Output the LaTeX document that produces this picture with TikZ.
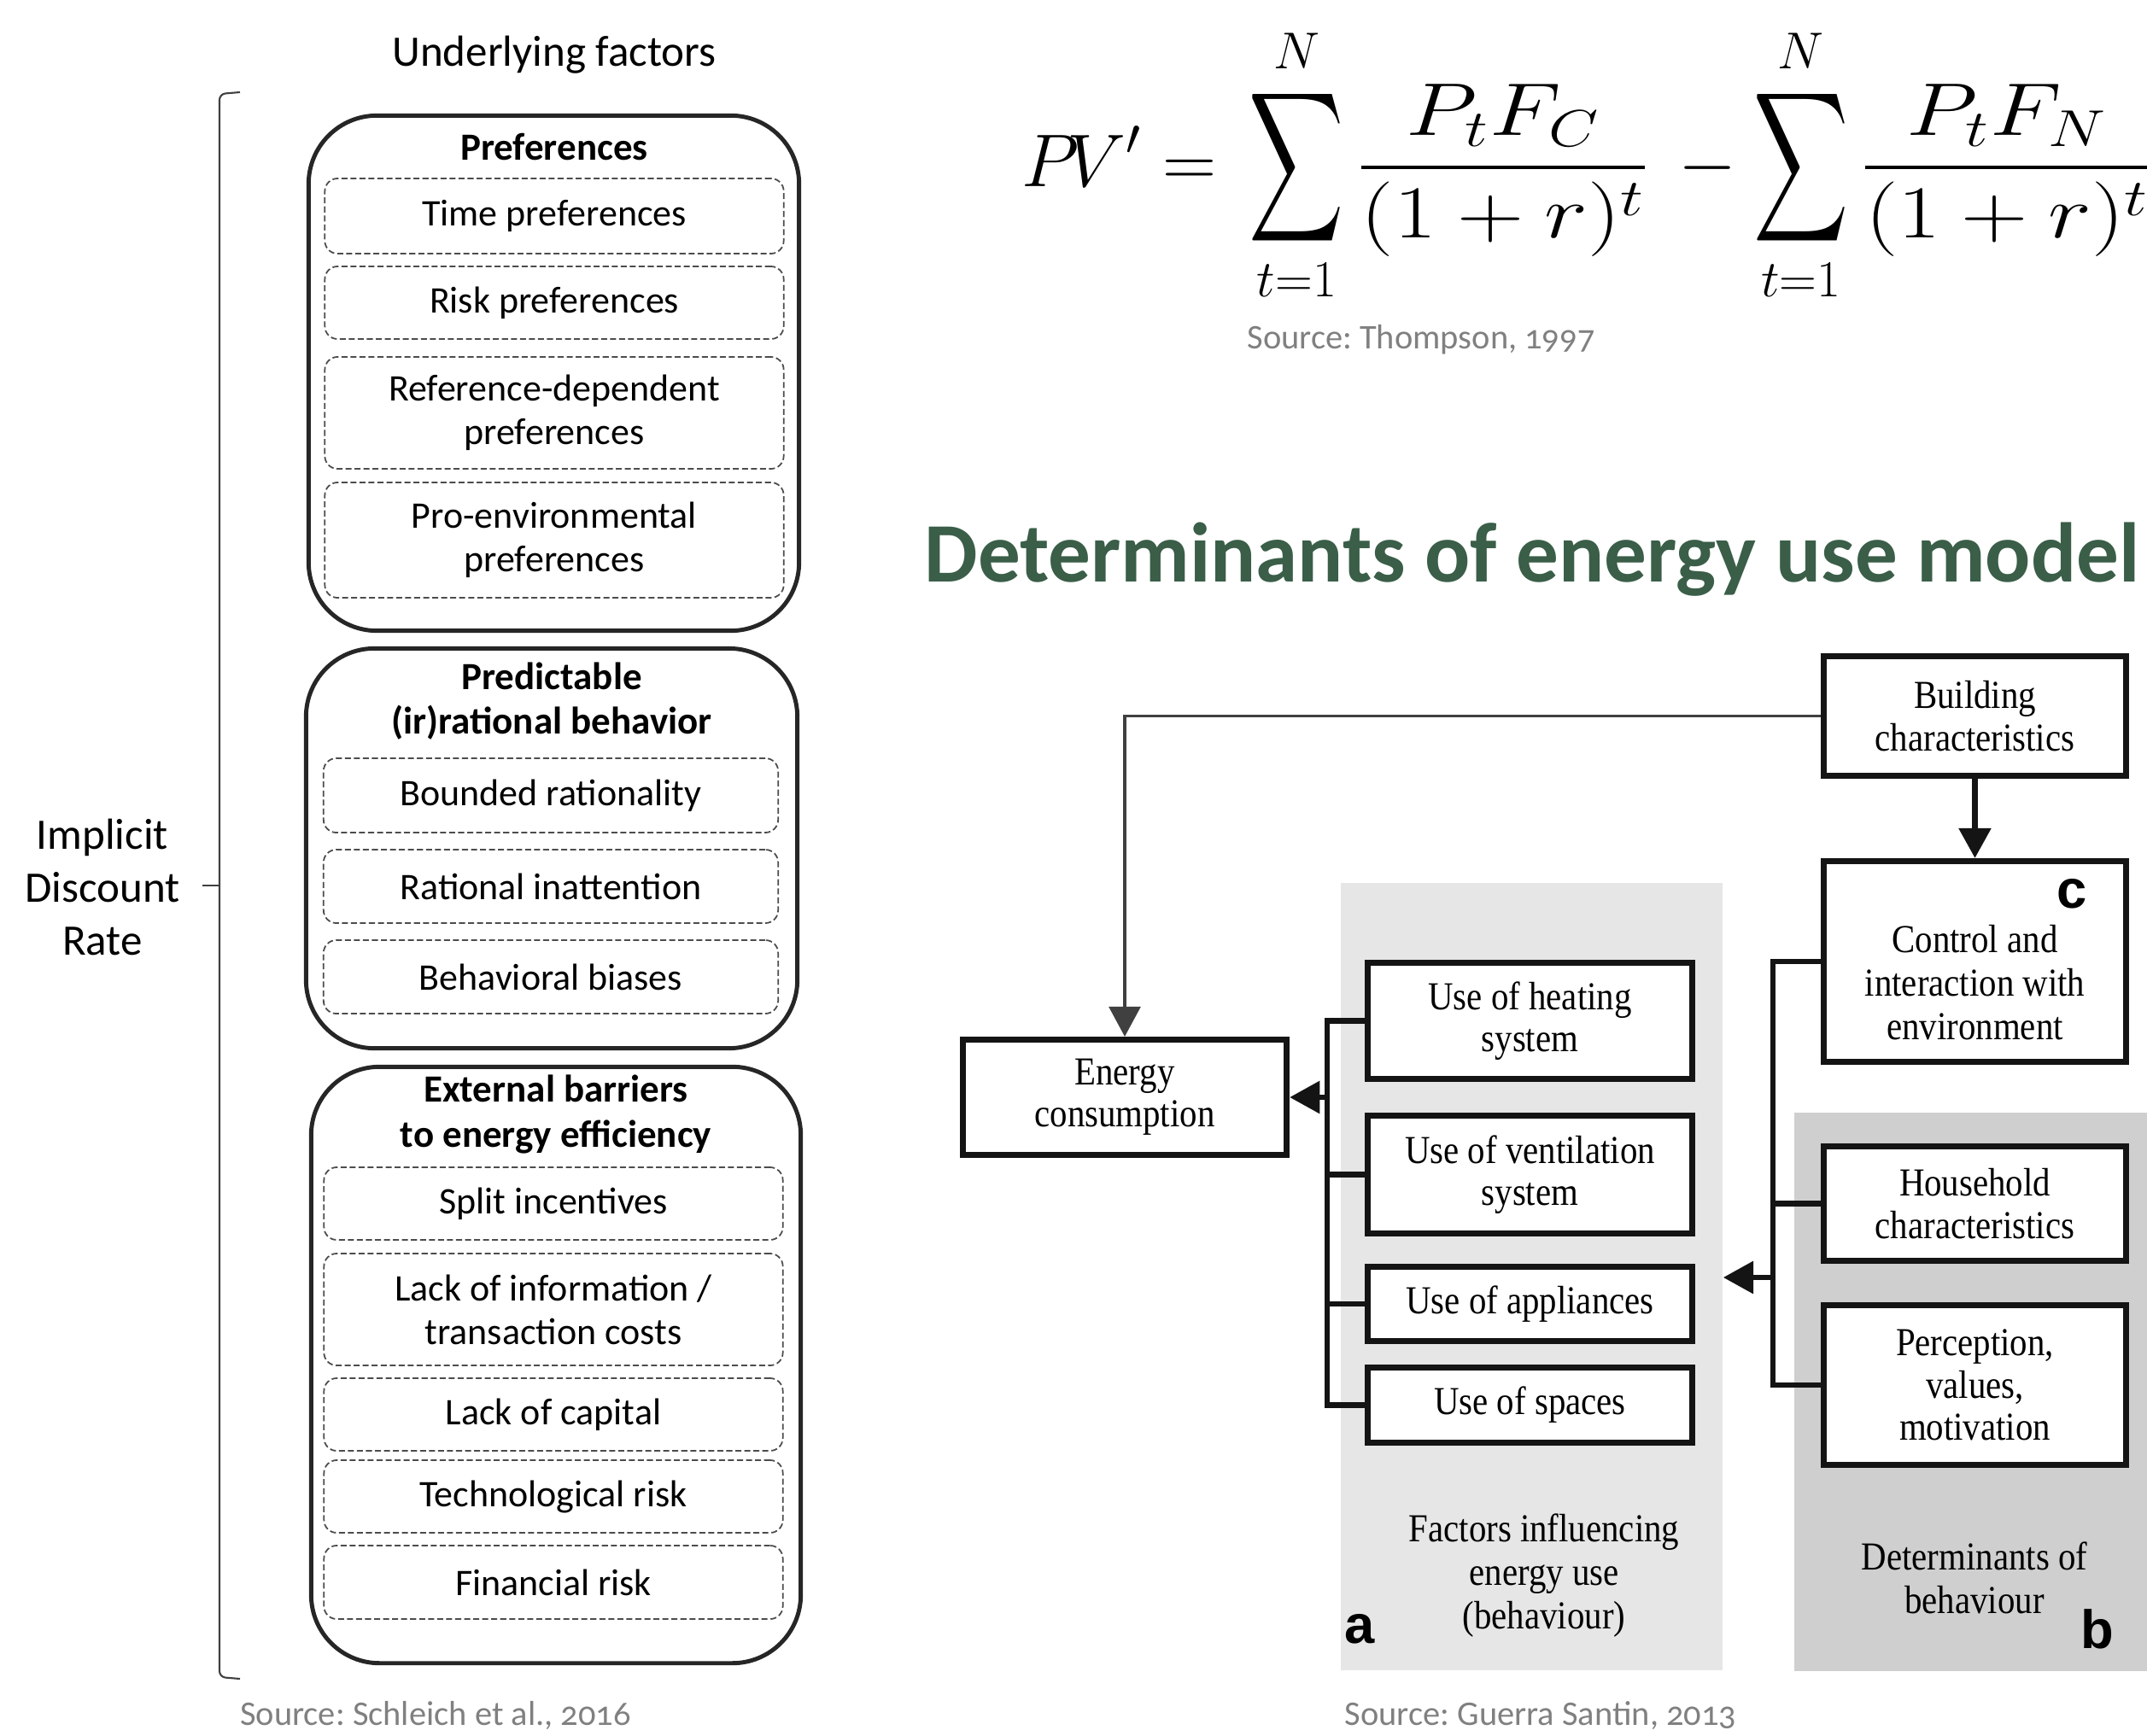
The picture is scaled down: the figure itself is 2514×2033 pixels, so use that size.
\documentclass[tikz,border=0pt]{standalone}
\usepackage{amsmath}
\usepackage{graphicx}
\usepackage{fontspec}
\newfontfamily\calfont{Carlito}
\newfontfamily\srcfont[Numbers=OldStyle]{Carlito}
\newfontfamily\figfont[FakeStretch=0.88]{Liberation Serif}
\newfontfamily\labfont{Liberation Sans}
\usetikzlibrary{arrows.meta}
\usetikzlibrary{positioning,calc}
\frenchspacing

\definecolor{titlegreen}{RGB}{58,94,72}
\definecolor{panelA}{RGB}{230,230,230}
\definecolor{panelB}{RGB}{207,207,207}
\definecolor{srcgray}{RGB}{128,128,128}

\newcommand{\bigsum}{\mathop{\vcenter{\hbox{\scalebox{0.88}[1.4]{$\displaystyle\sum$}}}}\limits}
\newcommand{\widefrac}[2]{\scalebox{1.24}[1]{$\displaystyle\frac{#1}{#2}$}}

\tikzset{
  groupbox/.style={draw=black!85, line width=1.4pt, rounded corners=0.8cm, inner sep=0pt},
  grouptitle/.style={align=center, font=\calfont\bfseries\fontsize{12.8}{15}\selectfont},
  dashbox/.style={draw=black!70, line width=0.5pt, dash pattern=on 2pt off 1pt,
    rounded corners=0.15cm, align=center, inner sep=0pt,
    font=\calfont\fontsize{12.5}{14.5}\selectfont},
  bracket/.style={draw=black!75, line width=0.6pt},
  mbox/.style={draw=black!92, line width=2pt, fill=white, minimum width=3.54cm,
    align=center, inner sep=0pt, font=\figfont\fontsize{13.2}{14}\selectfont},
  ubox/.style={mbox, minimum width=3.80cm},
  link/.style={draw=black!92, line width=1.8pt},
  thinlink/.style={draw=black!75, line width=1pt},
  panel/.style={inner sep=0pt},
  paneltext/.style={align=center, font=\figfont\fontsize{13.2}{14.5}\selectfont},
  panellabel/.style={inner sep=0pt, font=\labfont\bfseries\fontsize{18}{18}\selectfont},
  source/.style={text=srcgray, font=\srcfont\fontsize{11.5}{13}\selectfont},
}

\begin{document}
\begin{tikzpicture}[x=0.01cm, y=-0.01cm, >={Triangle[length=10pt,width=10.5pt]}]
\useasboundingbox (0,0) rectangle (2514,2033);
\clip (0,0) rectangle (2514,2033);

% ---- underlying factors
\node[font=\calfont\fontsize{14.5}{17}\selectfont] (uf) at (649,64) {Underlying factors};

\node[groupbox, minimum width=5.74cm, minimum height=6.03cm] (pref) at (648.5,437) {};
\node[groupbox, minimum width=5.75cm, minimum height=4.68cm] (pred) at (646,993.5) {};
\node[groupbox, minimum width=5.73cm, minimum height=6.98cm] (extb) at (651,1598.5) {};

\node[grouptitle] (preft) at (649,172) {Preferences};
\node[grouptitle] (predt) at (646,821) {Predictable\\(ir)rational behavior};
\node[grouptitle] (extbt) at (651,1305) {External barriers\\to energy efficiency};

\foreach \nm/\y/\h/\txt in {tp/253/0.88/Time preferences, rp/354.5/0.85/Risk preferences,
    rd/483.5/1.31/{Reference-dependent\\preferences}, pe/632.5/1.35/{Pro-environmental\\preferences}}
  \node[dashbox, minimum width=5.37cm, minimum height=\h cm] (\nm) at (649,\y) {\txt};
\foreach \nm/\y/\h/\txt in {br/931.5/0.87/Bounded rationality, ri/1038/0.86/Rational inattention,
    bb/1144/0.86/Behavioral biases}
  \node[dashbox, minimum width=5.32cm, minimum height=\h cm] (\nm) at (645,\y) {\txt};
\foreach \nm/\y/\h/\txt in {si/1409.5/0.85/Split incentives, li/1533.5/1.31/{Lack of information /\\transaction costs},
    lc/1656.5/0.85/Lack of capital, tr/1752.5/0.85/Technological risk, fr/1853/0.86/Financial risk}
  \node[dashbox, minimum width=5.37cm, minimum height=\h cm] (\nm) at (648,\y) {\txt};

% bracket
\coordinate (bmid) at (257,1037);
\draw[bracket, rounded corners=2pt] (281,108) -- (257,110) -- (257,1964) -- (281,1966);
\draw[bracket] (bmid) -- ++(-20,0);
\node[align=center, font=\calfont\fontsize{14.5}{17.6}\selectfont] (idr) at (120,1039) {Implicit\\Discount\\Rate};

\node[source] (src1) at (510,2009) {Source: Schleich et al., 2016};

% ---- formula
\node[anchor=base west, inner sep=0pt, font=\fontsize{27}{30}\selectfont] (pvf) at (1196,218)
  {$\displaystyle P\!V' =\, \bigsum_{t=1}^{N}\widefrac{P_tF_C}{(1+r)^t} \,- \bigsum_{t=1}^{N}\widefrac{P_tF_N}{(1+r)^t}$};
\node[source] (src2) at (1664,398) {Source: Thompson, 1997};

\node[anchor=base west, inner sep=0pt, text=titlegreen, font=\calfont\bfseries\fontsize{28.2}{30}\selectfont]
  (ttl) at (1082,681) {Determinants of energy use model};

% ---- determinants model
\node[panel, fill=panelA, minimum width=4.47cm, minimum height=9.22cm] (pa) at (1793.5,1495) {};
\node[panel, fill=panelB, minimum width=4.3cm, minimum height=6.54cm, anchor=north west] (pb) at (2100,1302) {};

\node[mbox, minimum height=1.40cm] (bc) at (2312.5,838.5) {Building\\characteristics};
\node[mbox, minimum height=2.35cm] (ci) at (2312.5,1126) {};
\node[paneltext] (cit) at (2312.5,1151) {Control and\\interaction with\\environment};
\node[panellabel] (lc) at (2426,1047) {c};
\node[mbox, minimum height=1.34cm] (hc) at (2312.5,1409.5) {Household\\characteristics};
\node[mbox, minimum height=1.87cm] (pv) at (2312.5,1622) {Perception,\\values,\\motivation};

\node[ubox, minimum width=3.79cm, minimum height=1.35cm] (ec) at (1317,1285) {Energy\\consumption};
\node[ubox, minimum height=1.36cm] (uh) at (1791.5,1195.5) {Use of heating\\system};
\node[ubox, minimum height=1.38cm] (uv) at (1791.5,1375.5) {Use of ventilation\\system};
\node[ubox, minimum height=0.87cm] (ua) at (1791.5,1527) {Use of appliances};
\node[ubox, minimum height=0.88cm] (us) at (1791.5,1645.5) {Use of spaces};

% connectors
\coordinate (rb) at (2076,1496);
\coordinate (lb) at (1554,1285);
\draw[thinlink, ->] (bc.west) -| (ec.north);
\draw[link, ->] (bc.south) -- (ci.north);
\draw[link] (ci.west) -- (ci.west -| rb) -- (pv.west -| rb) -- (pv.west);
\draw[link] (hc.west) -- (hc.west -| rb);
\draw[link, ->] (rb) -- (rb -| pa.east);
\draw[link] (uh.west) -- (uh.west -| lb) -- (us.west -| lb) -- (us.west);
\foreach \b in {uv,ua}
  \draw[link] (\b.west) -- (\b.west -| lb);
\draw[link, ->] (lb) -- (ec.east);

\node[paneltext] (fa) at (1808,1845) {Factors influencing\\energy use\\(behaviour)};
\node[panellabel] (la) at (1592,1908) {a};
\node[paneltext] (db) at (2312,1848) {Determinants of\\behaviour};
\node[panellabel] (lb2) at (2456,1908) {b};
\node[source] (src3) at (1804,2009) {Source: Guerra Santin, 2013};
\end{tikzpicture}
\end{document}
